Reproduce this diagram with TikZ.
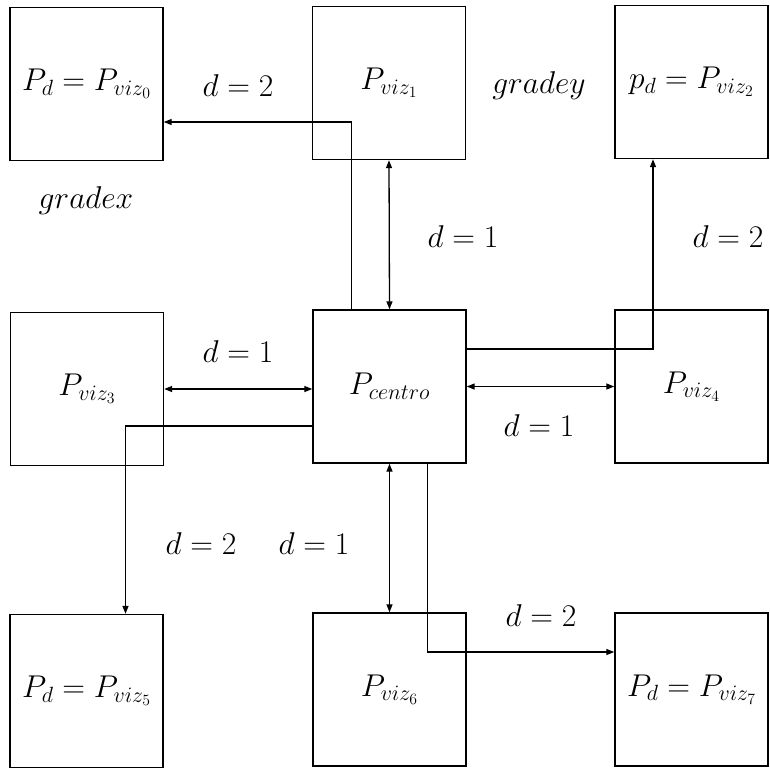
\RequirePackage{fix-cm}
\documentclass[tikz,border=0pt]{standalone}
\usetikzlibrary{arrows.meta}
\begin{document}
\begin{tikzpicture}[x=1pt,y=-1pt,
  box/.style={draw,line width=1.4pt,minimum width=153pt,minimum height=153pt,inner sep=0pt,font=\fontsize{31.5}{37}\selectfont},
  lbl/.style={font=\fontsize{31.5}{37}\selectfont,inner sep=0pt},
  conn/.style={line width=1.3pt},
  tip/.style={-{Triangle[length=8pt,width=6pt]}},
  dtip/.style={{Triangle[length=8pt,width=6pt]}-{Triangle[length=8pt,width=6pt]}}]
\useasboundingbox (0,0) rectangle (770,769);
\node[box] (v0) at (86.5,84) {$P_d=P_{viz_0}$};
\node[box] (v1) at (389,83) {$P_{viz_1}$};
\node[box] (v2) at (691.5,82) {$p_d=P_{viz_2}$};
\node[box] (v3) at (87,389) {$P_{viz_3}$};
\node[box] (c)  at (389.5,386.5) {$P_{centro}$};
\node[box] (v4) at (691.5,386.5) {$P_{viz_4}$};
\node[box] (v5) at (86.5,691) {$P_d=P_{viz_5}$};
\node[box] (v6) at (389.5,689.5) {$P_{viz_6}$};
\node[box] (v7) at (691.5,689.5) {$P_d=P_{viz_7}$};
% labels
\node[lbl] (gx) at (86,201) {$gradex$};
\node[lbl] (gy) at (539,86) {$gradey$};
\node[lbl] (l1) at (238,86) {$d=2$};
\node[lbl] (l2) at (463,237) {$d=1$};
\node[lbl] (l3) at (728,237) {$d=2$};
\node[lbl] (l4) at (238,352) {$d=1$};
\node[lbl] (l5) at (539,426) {$d=1$};
\node[lbl] (l6) at (201,544) {$d=2$};
\node[lbl] (l7) at (314,544) {$d=1$};
\node[lbl] (l8) at (541,616) {$d=2$};
% connectors
\draw[conn,tip] ([xshift=-38pt]c.north) |- ([yshift=-38pt]v0.east);
\draw[conn,tip] ([yshift=37.5pt]c.east) -| ([xshift=-38.5pt]v2.south);
\draw[conn,tip] ([yshift=-39.5pt]c.west) -| ([xshift=39pt]v5.north);
\draw[conn,tip] ([xshift=38pt]c.south) |- ([yshift=37.5pt]v7.west);
\draw[conn,dtip] (v1.south) -- (c.north);
\draw[conn,dtip] (v3.east) -- (v3.east -| c.west);
\draw[conn,dtip] (c.east) -- (v4.west);
\draw[conn,dtip] (c.south) -- (v6.north);
\end{tikzpicture}
\end{document}
